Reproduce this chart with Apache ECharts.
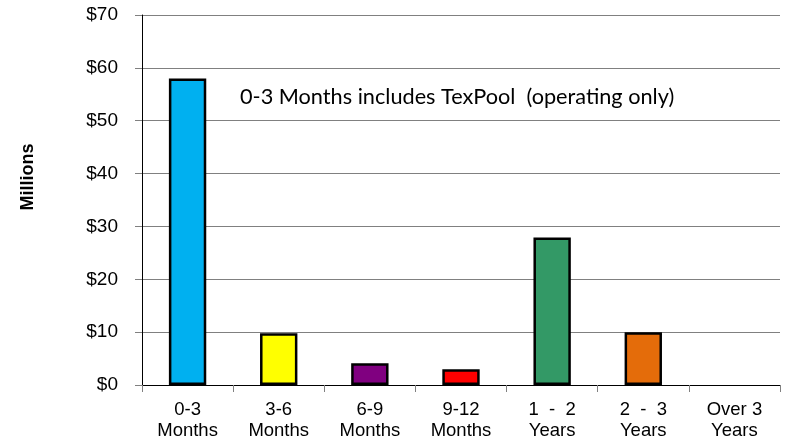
<!DOCTYPE html>
<html><head><meta charset="utf-8">
<script src="https://cdn.jsdelivr.net/npm/echarts@6/dist/echarts.min.js"></script>
<style>html,body{margin:0;padding:0;background:#fff}#c{width:791px;height:441px}</style>
</head><body><div id="c"></div>
<script>
var categories = ['0-3\nMonths','3-6\nMonths','6-9\nMonths','9-12\nMonths','1  -  2\nYears','2  -  3\nYears','Over 3\nYears'];
var values = [58, 9.8, 4.1, 3.0, 27.9, 10.0, 0];
var barColors = ['#00B0F0','#FFFF00','#800080','#FF0000','#339966','#E46C0A','#999999'];
var yTicks = [0,10,20,30,40,50,60,70];
var note = '0-3 Months includes TexPool  (operating only)';
var yTitle = 'Millions';

var chart = echarts.init(document.getElementById('c'));
chart.setOption({
  animation:false,
  grid:{left:142,right:11,top:15,bottom:56,containLabel:false},
  graphic:[
    {type:'text',left:240,top:86,style:{text:note,font:'21.7px Lato, "Open Sans", sans-serif',fill:'#000'}},
    {type:'text',x:28,y:177,rotation:Math.PI/2,style:{text:yTitle,font:'bold 18px "Liberation Sans", Arial, sans-serif',fill:'#000',align:'center',verticalAlign:'middle'}}
  ],
  xAxis:{type:'category',data:categories,
    axisLine:{lineStyle:{color:'#000',width:1}},
    axisTick:{show:true,length:7,lineStyle:{color:'#808080'}},
    axisLabel:{interval:0,color:'#000',fontFamily:'Liberation Sans, Arial, sans-serif',fontSize:18.5,lineHeight:21,margin:14}},
  yAxis:{type:'value',min:yTicks[0],max:yTicks[yTicks.length-1],interval:10,
    axisLine:{show:true,lineStyle:{color:'#000'}},
    axisTick:{show:true,length:7,lineStyle:{color:'#808080'}},
    splitLine:{lineStyle:{color:'#808080',width:1}},
    axisLabel:{color:'#000',fontFamily:'Liberation Sans, Arial, sans-serif',fontSize:19,margin:24,
      formatter:function(v){return '$'+v;}}},
  series:[{type:'bar',barWidth:'41%',
    data:values.map(function(v,i){return {value:v,itemStyle:{color:barColors[i],borderColor:'#000',borderWidth:v===0?0:2.5}};})}]
});
</script></body></html>
